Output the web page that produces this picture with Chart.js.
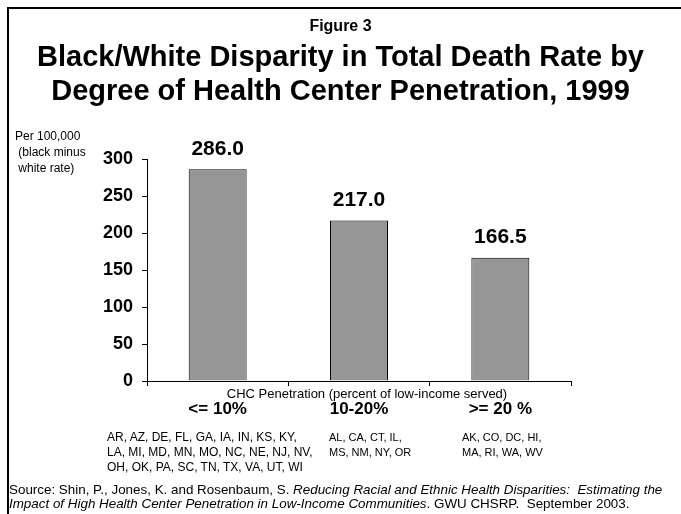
<!DOCTYPE html>
<html>
<head>
<meta charset="utf-8">
<script src="https://cdn.jsdelivr.net/npm/chart.js@4.4.1/dist/chart.umd.min.js"></script>
<style>
  html, body { margin: 0; padding: 0; background: #fff; }
  body { width: 681px; height: 514px; position: relative; overflow: hidden;
         font-family: Arial, "Liberation Sans", sans-serif; color: #000; }
  #frame { position: absolute; left: 7px; top: 7px; right: 0; bottom: 0;
           border-top: 2px solid #000; border-left: 2px solid #000; }
  #wrap { position: absolute; left: 0; top: 0; width: 681px; height: 514px; }
  #mycanvas { display: block; }
  .t { position: absolute; white-space: nowrap; }
  .fig { left: 0; width: 681px; top: 17px; text-align: center; font-weight: bold; font-size: 16px; }
  .title { left: 0; width: 681px; top: 39px; text-align: center; font-weight: bold;
           font-size: 29px; line-height: 34px; }
  .ynote { left: 15px; top: 128px; font-size: 12px; line-height: 16px; }
  .xtitle { left: 147px; width: 440px; top: 386px; text-align: center; font-size: 13px; }
  .states { top: 430px; font-size: 11px; line-height: 15px; }
  .src { left: 9px; top: 483px; font-size: 13.4px; line-height: 14px; }
</style>
</head>
<body>
<div id="frame"></div>
<div id="wrap"><canvas id="mycanvas" width="681" height="514"></canvas></div>
<div class="t fig">Figure 3</div>
<div class="t title">Black/White Disparity in Total Death Rate by<br>Degree of Health Center Penetration, 1999</div>
<div class="t ynote">Per 100,000<br>&nbsp;(black minus<br>&nbsp;white rate)</div>
<div class="t xtitle">CHC Penetration (percent of low-income served)</div>
<div class="t states" style="left:107px;font-size:12px">AR, AZ, DE, FL, GA, IA, IN, KS, KY,<br>LA, MI, MD, MN, MO, NC, NE, NJ, NV,<br>OH, OK, PA, SC, TN, TX, VA, UT, WI</div>
<div class="t states" style="left:329px">AL, CA, CT, IL,<br>MS, NM, NY, OR</div>
<div class="t states" style="left:462px">AK, CO, DC, HI,<br>MA, RI, WA, WV</div>
<div class="t src">Source: Shin, P., Jones, K. and Rosenbaum, S. <i>Reducing Racial and Ethnic Health Disparities:&nbsp; Estimating the<br>Impact of High Health Center Penetration in Low-Income Communities</i>. GWU CHSRP.&nbsp; September 2003.</div>
<script>
var categories = ['<= 10%', '10-20%', '>= 20 %'];
var disparity = [286.0, 217.0, 166.5];
var yTicks = [0, 50, 100, 150, 200, 250, 300];

var valueLabels = {
	id: 'valueLabels',
	afterDatasetsDraw: function(chart){
		var ctx = chart.ctx;
		var meta = chart.getDatasetMeta(0);
		ctx.save();
		ctx.font = 'bold 21px Arial, "Liberation Sans", sans-serif';
		ctx.fillStyle = '#000';
		ctx.textAlign = 'center';
		ctx.textBaseline = 'bottom';
		meta.data.forEach(function(bar, i){
			ctx.fillText(disparity[i].toFixed(1), bar.x, bar.y - 10);
		});
		ctx.restore();
	}
};

var ctx = document.getElementById('mycanvas');
var barGraph = new Chart(ctx, {
	type: 'bar',
	data: {
		labels: categories,
		datasets: [{
			label: 'Black/White disparity',
			data: disparity,
			backgroundColor: '#969696',
			borderColor: '#000',
			borderWidth: 1,
			barPercentage: 0.41,
			categoryPercentage: 1
		}]
	},
	options: {
		responsive: false,
		animation: false,
		devicePixelRatio: 1,
		layout: { padding: { left: 0, right: 110, top: 159, bottom: 83 } },
		plugins: { legend: { display: false }, tooltip: { enabled: false } },
		scales: {
			x: {
				grid: { drawOnChartArea: false, color: '#000', tickLength: 5 },
				border: { color: '#000', width: 1 },
				ticks: { color: '#000', padding: 13, maxRotation: 0,
					font: { family: 'Arial, "Liberation Sans", sans-serif', size: 17, weight: 'bold' } },
				afterFit: function(scale){ scale.height = 50; }
			},
			y: {
				min: 0, max: 300,
				afterBuildTicks: function(scale){
					scale.ticks = yTicks.map(function(v){ return { value: v }; });
				},
				grid: { drawOnChartArea: false, color: '#000', tickLength: 5 },
				border: { color: '#000', width: 1 },
				ticks: { color: '#000', padding: 9,
					font: { family: 'Arial, "Liberation Sans", sans-serif', size: 18, weight: 'bold' } },
				afterFit: function(scale){ scale.width = 147; }
			}
		}
	},
	plugins: [valueLabels]
});
</script>
</body>
</html>
